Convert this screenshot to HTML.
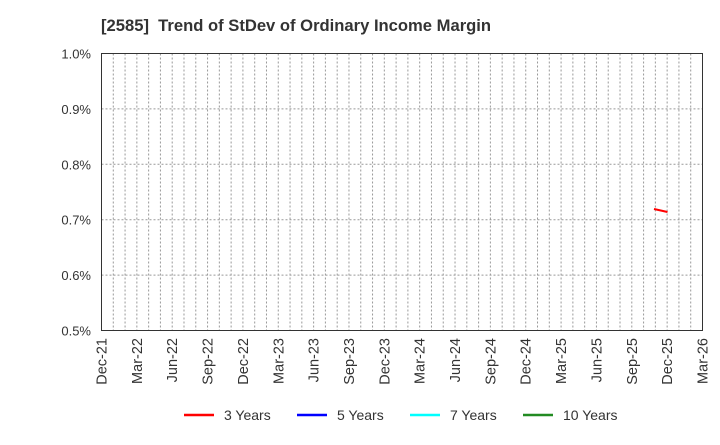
<!DOCTYPE html>
<html><head><meta charset="utf-8"><style>
body{margin:0;background:#fff;}
svg text{font-family:"Liberation Sans",Arial,sans-serif;fill:#333;}
</style></head><body>
<svg width="720" height="440" xmlns="http://www.w3.org/2000/svg">
<text x="101" y="31" font-size="16.6" font-weight="bold" xml:space="preserve" style="white-space:pre">[2585]  Trend of StDev of Ordinary Income Margin</text>
<g id="grid" stroke="#999" stroke-width="1" stroke-dasharray="2,2" fill="none"></g>
<rect x="101.5" y="53.5" width="601" height="277" fill="none" stroke="#333" stroke-width="1"/>
<g id="ylab" font-size="13" text-anchor="end"></g>
<g id="xlab" font-size="14.5" text-anchor="end"></g>
<line x1="654" y1="209" x2="667.5" y2="212" stroke="#f00" stroke-width="2"/>
<g stroke-width="2.5">
<line x1="184" y1="415" x2="214" y2="415" stroke="#f00"/>
<line x1="297" y1="415" x2="327" y2="415" stroke="#00f"/>
<line x1="410" y1="415" x2="440" y2="415" stroke="#0ff"/>
<line x1="523" y1="415" x2="553" y2="415" stroke="#228b22"/>
</g>
<g font-size="14">
<text x="224" y="420">3 Years</text>
<text x="337" y="420">5 Years</text>
<text x="450" y="420">7 Years</text>
<text x="563" y="420">10 Years</text>
</g>
<script>
var ns="http://www.w3.org/2000/svg",g=document.getElementById('grid'),yl=document.getElementById('ylab'),xl=document.getElementById('xlab');
var L=101.5,R=702.5,T=53.5,B=330.5,step=(R-L)/51;
for(var i=1;i<51;i++){var x=L+i*step,l=document.createElementNS(ns,'line');l.setAttribute('x1',x);l.setAttribute('x2',x);l.setAttribute('y1',T);l.setAttribute('y2',B);g.appendChild(l);}
for(var j=0;j<=5;j++){var y=B-j*(B-T)/5;if(j>0&&j<5){var l=document.createElementNS(ns,'line');l.setAttribute('x1',L);l.setAttribute('x2',R);l.setAttribute('y1',y);l.setAttribute('y2',y);g.appendChild(l);}
var t=document.createElementNS(ns,'text');t.setAttribute('x',91);t.setAttribute('y',y+5);t.textContent=(0.5+j*0.1).toFixed(1)+'%';yl.appendChild(t);}
var m=['Dec','Mar','Jun','Sep'];
for(var k=0;k<=17;k++){var x=L+k*3*step,yr=21+Math.floor((k+3)/4);var t=document.createElementNS(ns,'text');t.setAttribute('transform','translate('+(x+5)+',338) rotate(-90)');t.textContent=m[k%4]+'-'+yr;xl.appendChild(t);}
</script>
</svg>
</body></html>
